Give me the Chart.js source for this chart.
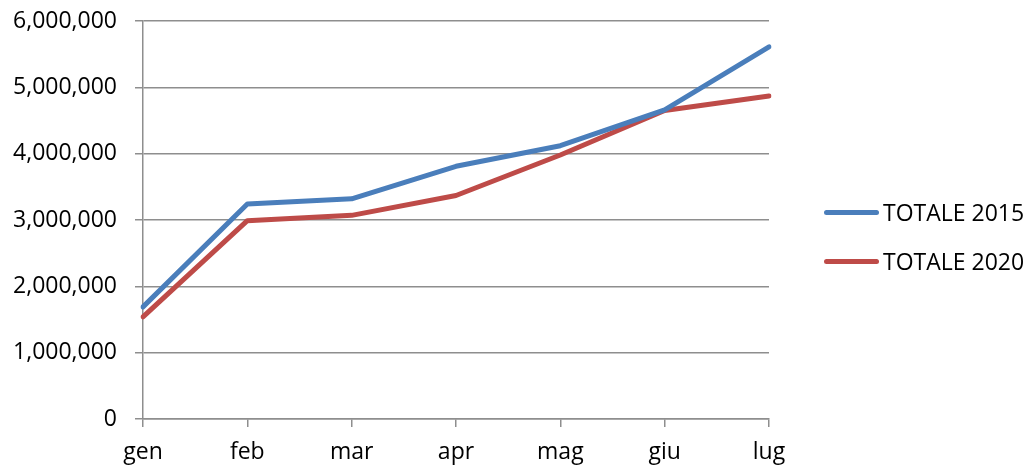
<!DOCTYPE html>
<html lang="it">
<head>
    <meta charset="UTF-8">
    <title>Totale 2015 vs 2020</title>
    <script src="https://cdn.jsdelivr.net/npm/chart.js"></script>
    <style>
        body, html {
            margin: 0;
            background: #fff;
            font-family: "Open Sans", sans-serif;
        }
        .wrap {
            position: relative;
            width: 1030px;
            height: 471px;
        }
        #legend {
            position: absolute;
            left: 824px;
            top: 196px;
            margin: 0;
            padding: 0;
            list-style: none;
            font-size: 23px;
            color: #000;
        }
        #legend li {
            display: flex;
            align-items: center;
            height: 32px;
            margin-bottom: 17px;
            white-space: nowrap;
        }
        #legend span.sw {
            display: inline-block;
            width: 55px;
            height: 5px;
            border-radius: 3px;
            margin-right: 4px;
        }
    </style>
</head>
<body>
    <div class="wrap">
        <canvas id="chart" width="1030" height="471"></canvas>
        <ul id="legend"></ul>
    </div>

    <script>
        const months = ['gen', 'feb', 'mar', 'apr', 'mag', 'giu', 'lug'];
        const totale2015 = [1690000, 3240000, 3320000, 3810000, 4120000, 4660000, 5610000];
        const totale2020 = [1540000, 2990000, 3070000, 3370000, 3980000, 4650000, 4870000];
        const seriesNames = ['TOTALE 2015', 'TOTALE 2020'];
        const seriesColors = ['#4a7ebb', '#be4b48'];

        const gridColor = '#8e8e8e';

        const chart = new Chart(document.getElementById('chart').getContext('2d'), {
            type: 'line',
            data: {
                labels: months,
                datasets: [totale2015, totale2020].map((vals, i) => ({
                    label: seriesNames[i],
                    data: vals,
                    borderColor: seriesColors[i],
                    backgroundColor: seriesColors[i],
                    borderWidth: 5,
                    borderCapStyle: 'round',
                    borderJoinStyle: 'round',
                    pointRadius: 0,
                    tension: 0,
                    fill: false
                }))
            },
            options: {
                responsive: false,
                devicePixelRatio: 1,
                animation: false,
                layout: {
                    padding: { top: 21, right: 261, bottom: 0, left: 0 }
                },
                plugins: {
                    legend: { display: false },
                    tooltip: { enabled: false }
                },
                scales: {
                    x: {
                        offset: false,
                        grid: {
                            drawOnChartArea: false,
                            drawTicks: true,
                            tickLength: 8,
                            color: gridColor,
                            lineWidth: 1.5
                        },
                        border: { display: true, color: gridColor, width: 1.5 },
                        ticks: {
                            color: '#000',
                            padding: 12,
                            maxRotation: 0,
                            font: { family: 'Open Sans', size: 23 }
                        },
                        afterFit: (s) => { s.height = 52; }
                    },
                    y: {
                        min: 0,
                        max: 6000000,
                        grid: {
                            color: gridColor,
                            lineWidth: 1.5,
                            tickLength: 8
                        },
                        border: { display: true, color: gridColor, width: 1.5 },
                        ticks: {
                            stepSize: 1000000,
                            color: '#000',
                            padding: 18,
                            font: { family: 'Open Sans', size: 23 },
                            callback: (v) => v.toLocaleString('en-US')
                        },
                        afterFit: (s) => {
                            s.width = 143;
                            s.paddingTop = 0;
                            s.paddingBottom = 0;
                        }
                    }
                }
            }
        });

        // legend on the right, built from the datasets
        const legend = document.getElementById('legend');
        chart.data.datasets.forEach(ds => {
            const li = document.createElement('li');
            const sw = document.createElement('span');
            sw.className = 'sw';
            sw.style.background = ds.borderColor;
            li.appendChild(sw);
            li.appendChild(document.createTextNode(ds.label));
            legend.appendChild(li);
        });
    </script>
</body>
</html>
